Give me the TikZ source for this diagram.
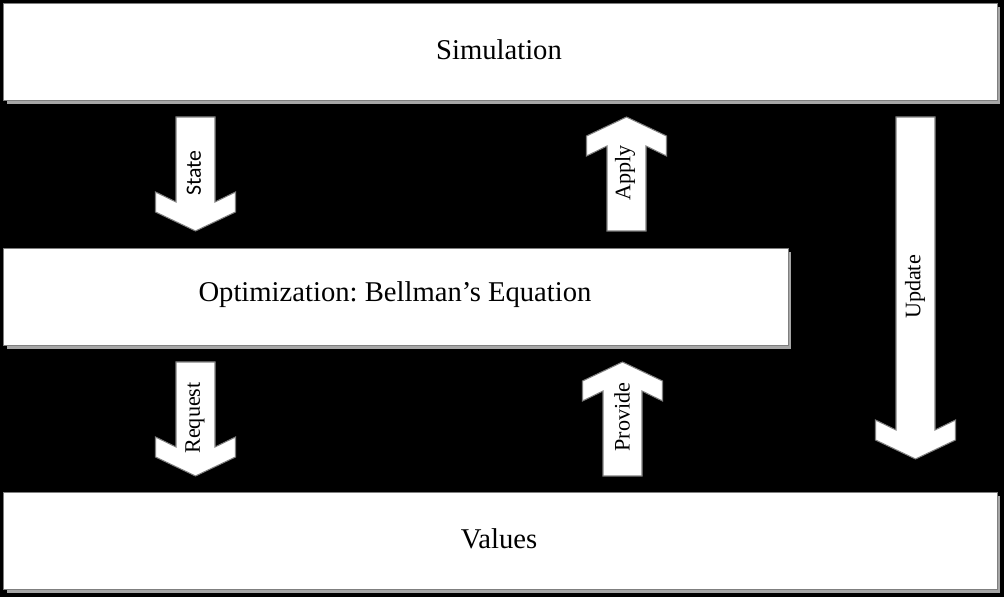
\documentclass[tikz,border=0pt]{standalone}
\usepackage{fontspec}
\setmainfont{Liberation Serif}
\newfontfamily\calfont{Carlito}
\usepackage{tikz}
\usetikzlibrary{shadows}
\frenchspacing
\definecolor{boxedge}{HTML}{7F7F7F}
\definecolor{boxshade}{HTML}{A6A6A6}
% block arrow: #1 centre x, #2 tail y, #3 tip y, #4 = 1 (down) or -1 (up)
\newcommand{\blockarrow}[4]{%
  \draw[arrowbody] ({#1-19.5},#2) -- ({#1+19.5},#2) -- ({#1+19.5},{#3-29*#4})
    -- ({#1+40},{#3-39*#4}) -- ({#1+40},{#3-19*#4}) -- (#1,#3)
    -- ({#1-40},{#3-19*#4}) -- ({#1-40},{#3-39*#4}) -- ({#1-19.5},{#3-29*#4}) -- cycle;}

\begin{document}
\begin{tikzpicture}[x=0.02cm,y=-0.02cm,
    stage/.style={draw=boxedge,line width=0.6pt,fill=white,anchor=north west,
      minimum height=1.94cm,inner sep=0pt,
      drop shadow={shadow xshift=0.06cm,shadow yshift=-0.06cm,fill=boxshade,opacity=1}},
    stagetext/.style={inner sep=0pt,font=\fontsize{16.3}{19}\selectfont},
    arrowbody/.style={draw=boxedge,line width=0.6pt,fill=white},
    flowlabel/.style={rotate=90,inner sep=0pt,font=\fontsize{12.6}{14}\selectfont}]
  \fill[black] (0,0) rectangle (1004,597);
  \useasboundingbox (0,0) rectangle (1004,597);
  % the three stages
  \node[stage,minimum width=19.88cm] (sim) at (3,3) {};
  \node[stage,minimum width=15.7cm] (opt) at (3,248) {};
  \node[stage,minimum width=19.88cm] (val) at (3,492) {};
  \node[stagetext] (simtext) at (499,50) {Simulation};
  \node[stagetext] (opttext) at (395,295) {Optimization: Bellman’s Equation};
  \node[stagetext] (valtext) at (499,539) {Values};
  % block arrows between the stages
  \blockarrow{195.5}{117}{231}{1}
  \blockarrow{195.5}{362}{476}{1}
  \blockarrow{626.5}{231}{117}{-1}
  \blockarrow{622.5}{476}{362}{-1}
  \blockarrow{915.5}{117}{459}{1}
  \node[flowlabel,font=\calfont\fontsize{12.4}{14}\selectfont] (state) at (194,173) {State};
  \node[flowlabel] (request) at (195,418) {Request};
  \node[flowlabel] (apply) at (625,173) {Apply};
  \node[flowlabel] (provide) at (622,417) {Provide};
  \node[flowlabel] (update) at (915,287) {Update};
\end{tikzpicture}
\end{document}
